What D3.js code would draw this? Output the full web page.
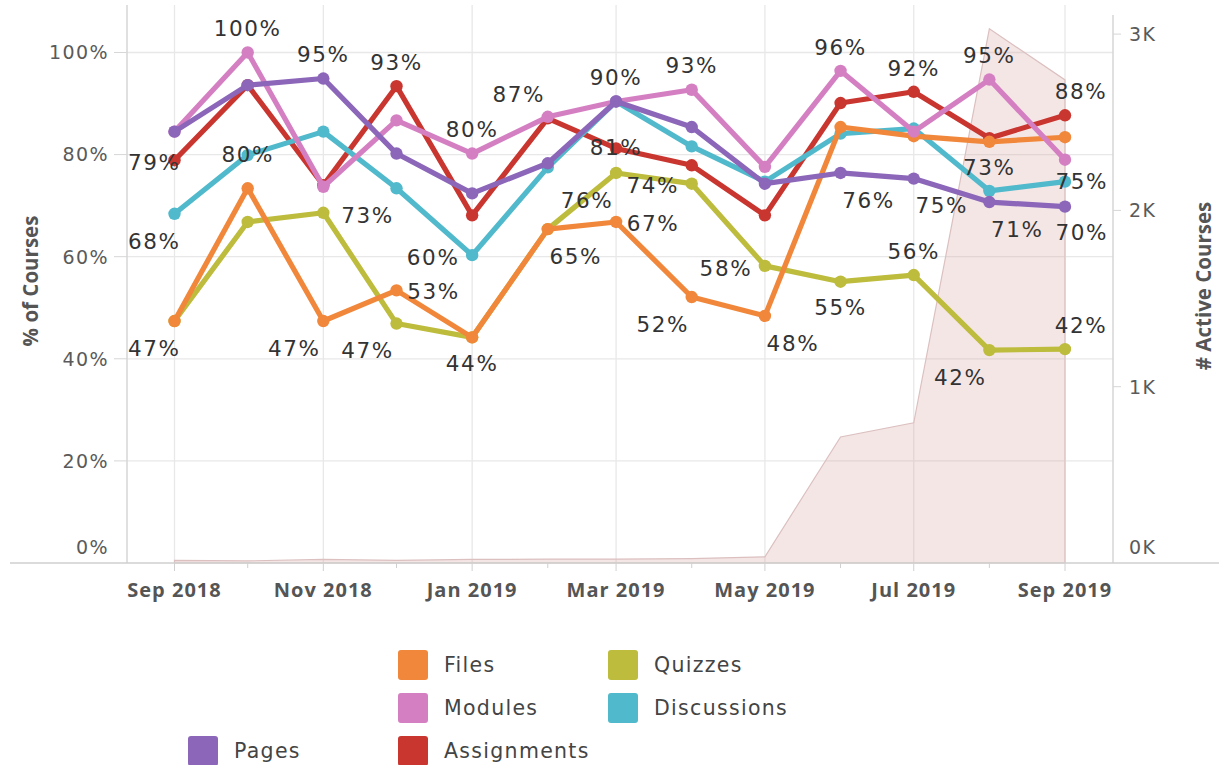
<!DOCTYPE html>
<html>
<head>
<meta charset="utf-8">
<script src="https://cdn.jsdelivr.net/npm/d3@7"></script>
<style>
  body { margin: 0; background: #fff; }
  svg { display: block; }
</style>
</head>
<body>
<svg id="chart"></svg>
<script>
// months shown on the x axis
var months = ["2018-09","2018-10","2018-11","2018-12","2019-01","2019-02","2019-03",
              "2019-04","2019-05","2019-06","2019-07","2019-08","2019-09"];

// % of courses using each tool
var files       = [47.4, 73.4, 47.4, 53.4, 44.2, 65.4, 66.8, 52.1, 48.4, 85.4, 83.6, 82.5, 83.4];
var quizzes     = [47.4, 66.8, 68.6, 46.9, 44.2, 65.4, 76.4, 74.3, 58.2, 55.1, 56.4, 41.7, 41.9];
var modules     = [84.5, 100, 73.7, 86.7, 80.2, 87.4, 90.4, 92.7, 77.6, 96.4, 84.5, 94.7, 79.0];
var discussions = [68.4, 79.9, 84.5, 73.4, 60.3, 77.5, 90.4, 81.6, 74.7, 84.1, 85.1, 72.9, 74.7];
var pages       = [84.5, 93.6, 94.9, 80.2, 72.4, 78.3, 90.4, 85.4, 74.3, 76.4, 75.3, 70.7, 69.8];
var assignments = [78.9, 93.6, 74.0, 93.4, 68.1, 87.1, 81.2, 77.9, 68.1, 90.1, 92.3, 83.2, 87.7];

// # active courses (right axis, area)
var activeCourses = [15, 12, 20, 15, 20, 22, 22, 25, 35, 715, 795, 3030, 2740];

var yTicks = [0, 20, 40, 60, 80, 100];
var y2Ticks = [0, 1000, 2000, 3000];

// which points carry a value label, and where the label sits
var labels = [
  ["Modules",1,"t"], ["Pages",2,"t"], ["Assignments",3,"t"], ["Modules",4,"t"],
  ["Modules",5,"tl"], ["Pages",6,"t"], ["Modules",7,"t"], ["Modules",9,"t"],
  ["Assignments",10,"t"], ["Modules",11,"t"], ["Assignments",12,"tR"],
  ["Assignments",0,"l"], ["Discussions",1,"c"], ["Discussions",3,"bl"],
  ["Discussions",4,"l"], ["Assignments",6,"c"], ["Quizzes",6,"bl"], ["Quizzes",7,"l"],
  ["Files",6,"r"], ["Files",5,"br"], ["Quizzes",8,"l"], ["Quizzes",9,"b"],
  ["Pages",9,"br"], ["Pages",10,"br"], ["Quizzes",10,"t"], ["Discussions",11,"t"],
  ["Pages",11,"br"], ["Discussions",12,"cR"], ["Pages",12,"bR"], ["Quizzes",12,"tR"],
  ["Quizzes",11,"bl"], ["Discussions",0,"bl"], ["Files",0,"bl"], ["Files",2,"bl"],
  ["Quizzes",3,"bl"], ["Files",3,"r"], ["Files",4,"b"], ["Files",7,"bl"], ["Files",8,"br"]
];

var series = [
  {name: "Assignments", values: assignments, color: "#c9352f"},
  {name: "Discussions", values: discussions, color: "#50b9cb"},
  {name: "Quizzes",     values: quizzes,     color: "#bdbc3c"},
  {name: "Files",       values: files,       color: "#f1873a"},
  {name: "Modules",     values: modules,     color: "#d57fc3"},
  {name: "Pages",       values: pages,       color: "#8b66b9"}
];

// legend order and grid slot [col,row]
var legendItems = ["Files", "Quizzes", "Modules", "Discussions", "Pages", "Assignments"];
var legendSlots = [[1,0],[2,0],[1,1],[2,1],[0,2],[1,2]];

var W = 1219, H = 765;
var plotL = 127, plotR = 1113, plotT = 5, plotB = 563;

var parse = d3.timeParse("%Y-%m");
var dates = months.map(parse);

var svg = d3.select("#chart").attr("width", W).attr("height", H);

var x = d3.scaleTime().domain([dates[0], dates[dates.length-1]]).range([174.5, 1065]);
var y = d3.scaleLinear().domain([0, 109.3]).range([plotB, plotT]);
var y2 = d3.scaleLinear().domain([0, 3165]).range([plotB, plotT]);

var colorOf = {};
series.forEach(function(s) { colorOf[s.name] = s.color; });

// gridlines
var grid = svg.append("g");
grid.selectAll("line.hg").data(yTicks.slice(1)).enter().append("line")
    .attr("class", "hg")
    .attr("x1", plotL).attr("x2", plotR)
    .attr("y1", function(d) { return y(d); }).attr("y2", function(d) { return y(d); })
    .attr("stroke", "#e8e8e8").attr("stroke-width", 1.3);
var labelDates = dates.filter(function(d, i) { return i % 2 === 0; });
grid.selectAll("line.vg").data(labelDates).enter().append("line")
    .attr("class", "vg")
    .attr("x1", function(d) { return x(d); }).attr("x2", function(d) { return x(d); })
    .attr("y1", plotT).attr("y2", plotB)
    .attr("stroke", "#e8e8e8").attr("stroke-width", 1.3);

// active courses area
var area = d3.area()
    .x(function(d, i) { return x(dates[i]); })
    .y0(plotB)
    .y1(function(d) { return y2(d); });
svg.append("path")
    .datum(activeCourses)
    .attr("d", area)
    .attr("fill", "#d9a3a3").attr("fill-opacity", 0.27)
    .attr("stroke", "#dcc0c0").attr("stroke-width", 1.2);

// axes lines
svg.append("line").attr("x1", plotL).attr("x2", plotL).attr("y1", plotT).attr("y2", plotB)
    .attr("stroke", "#d6d6d6").attr("stroke-width", 1.5);
svg.append("line").attr("x1", plotR).attr("x2", plotR).attr("y1", 15).attr("y2", plotB)
    .attr("stroke", "#d6d6d6").attr("stroke-width", 1.5);
svg.append("line").attr("x1", 10).attr("x2", W).attr("y1", plotB).attr("y2", plotB)
    .attr("stroke", "#cfcfcf").attr("stroke-width", 1.5);

// left axis ticks + labels
var yAx = svg.append("g");
yAx.selectAll("line").data(yTicks.slice(1)).enter().append("line")
    .attr("x1", plotL - 13).attr("x2", plotL)
    .attr("y1", function(d) { return y(d); }).attr("y2", function(d) { return y(d); })
    .attr("stroke", "#d6d6d6");
yAx.selectAll("text").data(yTicks).enter().append("text")
    .attr("x", 109)
    .attr("y", function(d) { return d === 0 ? plotB - 16 : y(d); })
    .attr("dy", "0.36em")
    .attr("text-anchor", "end")
    .style("font-family", "DejaVu Sans").style("font-size", "19px")
    .style("letter-spacing", "1.4px").style("fill", "#5a5a5a")
    .text(function(d) { return d + "%"; });

// right axis ticks + labels
var y2Ax = svg.append("g");
y2Ax.selectAll("line").data(y2Ticks.slice(1)).enter().append("line")
    .attr("x1", plotR).attr("x2", plotR + 8)
    .attr("y1", function(d) { return y2(d); }).attr("y2", function(d) { return y2(d); })
    .attr("stroke", "#d6d6d6");
y2Ax.selectAll("text").data(y2Ticks).enter().append("text")
    .attr("x", 1129)
    .attr("y", function(d) { return d === 0 ? plotB - 16 : y2(d); })
    .attr("dy", "0.36em")
    .style("font-family", "DejaVu Sans").style("font-size", "19px")
    .style("letter-spacing", "1.4px").style("fill", "#5a5a5a")
    .text(function(d) { return d3.format(".0f")(d / 1000) + "K"; });

// bottom ticks
svg.append("g").selectAll("line").data(dates).enter().append("line")
    .attr("x1", function(d) { return x(d); }).attr("x2", function(d) { return x(d); })
    .attr("y1", plotB).attr("y2", function(d, i) { return plotB + (i % 2 === 0 ? 8 : 5); })
    .attr("stroke", "#d0d0d0");
svg.append("g").selectAll("text").data(labelDates).enter().append("text")
    .attr("x", function(d) { return x(d); })
    .attr("y", 590).attr("dy", "0.36em")
    .attr("text-anchor", "middle")
    .style("font-family", "Open Sans").style("font-weight", "700").style("font-size", "20px")
    .style("letter-spacing", "1px").style("fill", "#555")
    .text(d3.timeFormat("%b %Y"));

// axis titles
svg.append("text")
    .attr("transform", "translate(31,281) rotate(-90)")
    .attr("text-anchor", "middle").attr("dy", "0.36em")
    .style("font-family", "Open Sans").style("font-weight", "700").style("font-size", "20.5px")
    .style("fill", "#555")
    .text("% of Courses");
svg.append("text")
    .attr("transform", "translate(1204,286) rotate(-90)")
    .attr("text-anchor", "middle").attr("dy", "0.36em")
    .style("font-family", "Open Sans").style("font-weight", "700").style("font-size", "20.5px")
    .style("fill", "#555")
    .text("# Active Courses");

// lines + dots
var line = d3.line()
    .x(function(d, i) { return x(dates[i]); })
    .y(function(d) { return y(d); });

series.forEach(function(s) {
  var g = svg.append("g");
  g.append("path").datum(s.values).attr("d", line)
      .attr("fill", "none").attr("stroke", s.color)
      .attr("stroke-width", 5.2).attr("stroke-linejoin", "round");
  g.selectAll("circle").data(s.values).enter().append("circle")
      .attr("cx", function(d, i) { return x(dates[i]); })
      .attr("cy", function(d) { return y(d); })
      .attr("r", 6.2).attr("fill", s.color);
});

// value labels
var offsets = {
  t: [0, -24], b: [0, 26], bl: [-29, 27], br: [28, 27], tl: [-29, -23],
  l: [-39, 2], r: [37, 1], c: [0, -1], tR: [16, -24], cR: [17, 0], bR: [17, 26]
};
var valuesOf = {};
series.forEach(function(s) { valuesOf[s.name] = s.values; });

var lab = svg.append("g");
labels.forEach(function(l) {
  var v = valuesOf[l[0]][l[1]];
  var o = offsets[l[2]];
  var t = lab.append("text")
      .attr("x", x(dates[l[1]]) + o[0])
      .attr("y", y(v) + o[1])
      .attr("dy", "0.36em")
      .attr("text-anchor", "middle")
      .style("font-family", "DejaVu Sans").style("font-size", "21.5px")
      .style("letter-spacing", "1.6px").style("fill", "#333")
      .text(Math.round(v) + "%");
  var bb = t.node().getBBox();
  if (bb.x < plotL + 1) t.attr("x", +t.attr("x") + (plotL + 1 - bb.x));
  if (bb.x + bb.width > plotR - 5) t.attr("x", +t.attr("x") - (bb.x + bb.width - plotR + 5));
});

// legend
var leg = svg.append("g");
legendItems.forEach(function(name, i) {
  var gx = 188 + legendSlots[i][0] * 210;
  var gy = 650 + legendSlots[i][1] * 43;
  leg.append("rect").attr("x", gx).attr("y", gy).attr("width", 30).attr("height", 30)
      .attr("rx", 3).attr("fill", colorOf[name]);
  leg.append("text").attr("x", gx + 46).attr("y", gy + 15).attr("dy", "0.36em")
      .style("font-family", "DejaVu Sans").style("font-size", "20.5px")
      .style("letter-spacing", "1.3px").style("fill", "#444")
      .text(name);
});
</script>
</body>
</html>
